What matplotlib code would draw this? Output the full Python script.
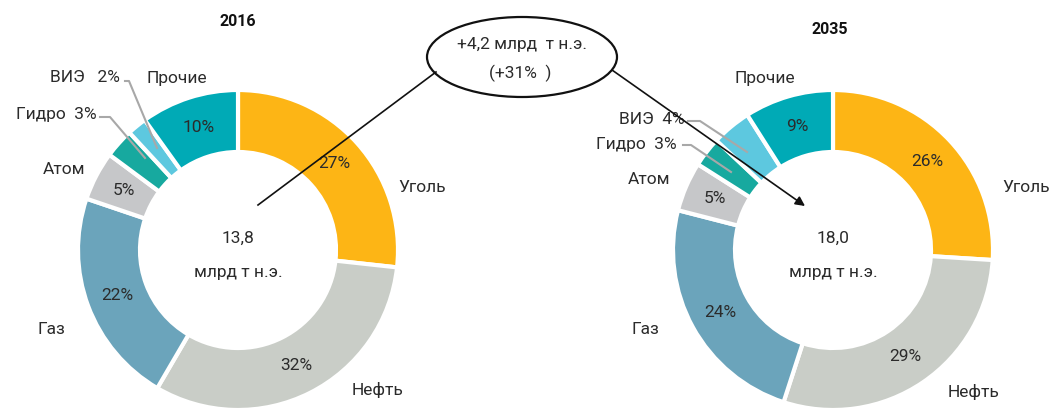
import matplotlib.pyplot as plt
from matplotlib.patches import Ellipse
import numpy as np

plt.rcParams['font.family'] = ['Roboto', 'DejaVu Sans']

categories = ['Уголь', 'Нефть', 'Газ', 'Атом', 'Гидро', 'ВИЭ', 'Прочие']
share_2016 = [27, 32, 22, 5, 3, 2, 10]
share_2035 = [26, 29, 24, 5, 3, 4, 9]
total_2016 = '13,8'
total_2035 = '18,0'
colors = ['#FDB515', '#C9CDC7', '#6BA4BB', '#C6C7C9', '#17A99F', '#5DC8DF', '#00AAB6']

W, H = 1058, 409
fig = plt.figure(figsize=(W / 100, H / 100), dpi=100)
ax = fig.add_axes([0, 0, 1, 1])
ax.set_xlim(0, W)
ax.set_ylim(0, H)
ax.set_aspect('equal')
ax.axis('off')

R, RW = 160, 62
TXT = '#2b2b2b'
FS = 12.5


def py(y):
    # pixel row (top-down) -> axes y
    return H - y


def donut(cx, cy, values, year, total, small_out):
    ax.pie(values, colors=colors, startangle=90, counterclock=False,
           radius=R, center=(cx, py(cy)), frame=True,
           wedgeprops=dict(width=RW, edgecolor='white', linewidth=3))
    # percentages inside the ring
    tot = sum(values)
    start = 90.0
    for i, v in enumerate(values):
        ang = start - 360.0 * v / tot / 2
        start -= 360.0 * v / tot
        if i in small_out:
            continue
        r = R - RW / 2
        x = cx + r * np.cos(np.radians(ang))
        y = py(cy) + r * np.sin(np.radians(ang))
        ax.text(x, y, f'{v}%', ha='center', va='center', fontsize=FS, color=TXT)
    ax.text(cx, py(cy - 12), total, ha='center', va='center', fontsize=FS, color=TXT)
    ax.text(cx, py(cy + 22), 'млрд т н.э.', ha='center', va='center', fontsize=FS, color=TXT)


donut(238, 250, share_2016, '2016', total_2016, small_out=(4, 5))
donut(833, 250, share_2035, '2035', total_2035, small_out=(4, 5))

ax.text(238, py(22), '2016', ha='center', va='center', fontsize=11.5, fontweight='bold', color='#111111')
ax.text(830, py(30), '2035', ha='center', va='center', fontsize=11.5, fontweight='bold', color='#111111')

# outside category labels (left)
ax.text(398, py(187), categories[0], ha='left', va='center', fontsize=FS, color=TXT)
ax.text(352, py(390), categories[1], ha='left', va='center', fontsize=FS, color=TXT)
ax.text(65, py(330), categories[2], ha='right', va='center', fontsize=FS, color=TXT)
ax.text(85, py(170), categories[3], ha='right', va='center', fontsize=FS, color=TXT)
ax.text(97, py(115), f'{categories[4]}  {share_2016[4]}%', ha='right', va='center', fontsize=FS, color=TXT)
ax.text(120, py(78), f'{categories[5]}   {share_2016[5]}%', ha='right', va='center', fontsize=FS, color=TXT)
ax.text(146, py(78), categories[6], ha='left', va='center', fontsize=FS, color=TXT)

# outside category labels (right)
ax.text(1002, py(187), categories[0], ha='left', va='center', fontsize=FS, color=TXT)
ax.text(948, py(392), categories[1], ha='left', va='center', fontsize=FS, color=TXT)
ax.text(659, py(330), categories[2], ha='right', va='center', fontsize=FS, color=TXT)
ax.text(670, py(180), categories[3], ha='right', va='center', fontsize=FS, color=TXT)
ax.text(677, py(144), f'{categories[4]}  {share_2035[4]}%', ha='right', va='center', fontsize=FS, color=TXT)
ax.text(685, py(119), f'{categories[5]}  {share_2035[5]}%', ha='right', va='center', fontsize=FS, color=TXT)
ax.text(765, py(78), categories[6], ha='center', va='center', fontsize=FS, color=TXT)

# leader lines
lead = dict(color='#A8A8A8', lw=1.5, zorder=4)
ax.plot([100, 110, 145], [py(117), py(117), py(158)], **lead)
ax.plot([125, 129, 157], [py(81), py(81), py(148)], **lead)
ax.plot([683, 691, 731], [py(145), py(145), py(172)], **lead)
ax.plot([688, 700, 747], [py(121), py(121), py(152)], **lead)

# callout
ax.add_patch(Ellipse((522, py(57)), 190, 80, fill=False, edgecolor='#111111', lw=1.6, zorder=5))
ax.text(522, py(45), '+4,2 млрд  т н.э.', ha='center', va='center', fontsize=FS, color=TXT)
ax.text(520, py(73), '(+31%  )', ha='center', va='center', fontsize=FS, color=TXT)
ax.plot([258, 436], [py(205), py(72)], color='#111111', lw=1.2, zorder=5)
ax.annotate('', xy=(805, py(206)), xytext=(612, py(70)),
            arrowprops=dict(arrowstyle='-|>', color='#111111', lw=1.2,
                            mutation_scale=14, shrinkA=0, shrinkB=0), zorder=6)

fig.savefig('out.png', dpi=100, facecolor='white')
